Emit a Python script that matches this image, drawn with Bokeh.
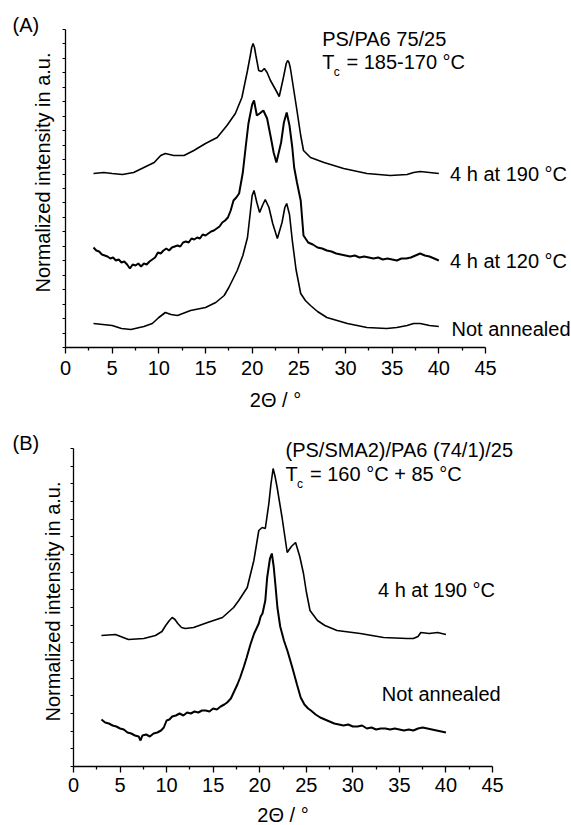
import numpy as np
from bokeh.plotting import figure
from bokeh.models import Range1d, FixedTicker, Label, CustomJSTickFormatter
from bokeh.layouts import column
from bokeh.embed import file_html
from bokeh.resources import INLINE

FONT = "Liberation Sans"

# ---------------- Panel (A): PS/PA6 75/25 ----------------
a190_x = [3.0, 4.1, 5.0, 6.1, 7.3, 8.4, 9.5, 10.2, 10.7, 11.6, 12.7, 13.75, 15.0, 16.25, 17.3, 18.2, 18.9,
          19.5, 19.8, 19.95, 20.1, 20.25, 20.4, 20.7, 21.0, 21.3, 21.6, 21.96, 22.5, 22.9, 23.35, 23.65, 23.8,
          23.95, 24.1, 24.3, 24.8, 25.2, 25.5, 26.25, 27.7, 29.8, 32.3, 34.8, 36.6, 37.3, 38.0, 39.0, 40.0]
a190_y = [174, 175, 174, 173, 175, 180, 185, 192, 194, 192, 192, 197, 204, 210, 222, 234, 250,
          277, 292, 300, 304, 300, 292, 277, 276, 279, 275, 267, 258, 251, 270, 284, 287,
          285, 279, 267, 237, 212, 197, 190, 185, 179, 174, 172, 173, 175, 176, 175, 174]

a120_x = [3.0, 3.3, 3.6, 3.9, 4.2, 4.5, 4.8, 5.1, 5.4, 5.7, 6.0, 6.3, 6.6, 6.9, 7.2, 7.5, 7.8, 8.1, 8.4, 8.7,
          9.0, 9.3, 9.6, 9.9, 10.2, 10.5, 10.8, 11.1, 11.4, 11.7, 12.0, 12.3, 12.6, 12.9, 13.2, 13.5, 13.8,
          14.1, 14.4, 14.7, 15.0, 15.3, 15.6, 15.9, 16.2, 16.5, 16.8, 17.1, 17.4, 17.7, 18.0, 18.3, 18.6,
          19.0, 19.3, 19.6, 20.0, 20.2, 20.5, 20.8, 21.2, 21.6, 22.0, 22.3, 22.6, 23.1, 23.4, 23.7, 24.0,
          24.3, 24.5, 24.8, 25.2, 25.5, 26.0, 26.5, 27.0, 27.5, 28.0, 28.5, 29.0, 29.5, 30.0, 30.5, 31.0,
          31.5, 32.0, 32.5, 33.0, 33.5, 34.0, 34.5, 35.0, 35.5, 36.0, 36.5, 37.0, 37.5, 38.0, 38.5, 39.0,
          39.5, 40.0]
a120_y = [100, 97, 96, 93, 92, 91, 89, 90, 87, 88, 85, 86, 83, 79, 83, 82, 84, 81, 84, 83,
          86, 88, 90, 95, 94, 97, 99, 97, 100, 101, 102, 101, 105, 106, 105, 109, 108,
          110, 109, 113, 112, 114, 116, 117, 119, 121, 125, 127, 130, 137, 147, 150, 154,
          175, 200, 224, 243, 247, 232, 234, 237, 229, 210, 195, 185, 205, 225, 235, 222,
          200, 180, 165, 147, 112, 105, 103, 100, 99, 97, 96, 94, 93, 92, 91, 92,
          90, 91, 90, 89, 90, 88, 89, 88, 87, 89, 89, 90, 92, 94, 92, 91,
          89, 87]

a_na_x = [3.0, 4.0, 5.0, 6.0, 7.0, 8.4, 9.3, 10.0, 10.7, 11.3, 12.0, 13.4, 15.0, 16.1, 17.0, 17.5, 18.4,
          19.0, 19.5, 19.8, 20.0, 20.2, 20.5, 20.8, 21.1, 21.4, 21.8, 22.2, 22.7, 23.2, 23.5, 23.7, 24.0,
          24.3, 24.7, 25.2, 25.7, 26.25, 27.0, 28.0, 30.2, 32.3, 34.4, 35.5, 36.6, 37.3, 38.0, 39.0, 40.0]
a_na_y = [24, 23, 22, 19, 18, 21, 24, 30, 35, 33, 32, 37, 40, 45, 52, 60, 77,
          92, 110, 135, 152, 157, 145, 135, 142, 148, 140, 124, 109, 125, 140, 144, 133,
          107, 78, 54, 47, 42, 36, 30, 24, 20, 19, 20, 22, 24, 24, 22, 21]

# ---------------- Panel (B): (PS/SMA2)/PA6 (74/1)/25 ----------------
b190_x = [3.0, 4.5, 5.9, 7.55, 8.8, 9.5, 9.9, 10.3, 10.6, 10.9, 11.2, 11.6, 12.0, 12.9, 14.4, 16.0, 17.2,
          17.75, 18.66, 19.37, 19.9, 20.26, 20.6, 20.98, 21.2, 21.44, 21.65, 21.87, 22.4, 22.95, 23.4,
          23.85, 24.3, 24.7, 25.0, 25.4, 26.2, 27.0, 28.3, 30.8, 33.3, 35.8, 36.5, 37.0, 37.3, 38.2, 39.1,
          40.0]
b190_y = [131, 132, 127, 128, 131, 135, 141, 146, 149, 147, 143, 139, 138, 139, 144, 149, 159,
          166, 179, 206, 236, 239, 238, 263, 282, 298, 290, 279, 249, 214, 220,
          224, 210, 193, 175, 156, 146, 141, 136, 133, 129, 128, 128, 130, 134, 133, 134,
          132]

b_na_x = [3.0, 3.4, 3.8, 4.2, 4.6, 5.0, 5.4, 5.8, 6.2, 6.6, 7.0, 7.2, 7.4, 7.8, 8.2, 8.6, 9.0, 9.4, 9.7,
          10.0, 10.3, 10.6, 11.0, 11.4, 11.8, 12.2, 12.6, 13.0, 13.4, 13.8, 14.2, 14.6, 15.0, 15.4, 15.8,
          16.2, 16.5, 16.9, 17.2, 17.6, 17.9, 18.3, 18.6, 19.0, 19.4, 19.9, 20.1, 20.3, 20.6, 20.8, 21.1,
          21.3, 21.5, 21.7, 21.9, 22.2, 22.6, 23.0, 23.5, 24.0, 24.4, 24.8, 25.2, 25.5, 26.0, 26.5, 27.0,
          27.5, 28.0, 28.5, 29.0, 29.5, 30.0, 30.5, 31.0, 31.5, 32.0, 32.5, 33.0, 33.5, 34.0, 34.5, 35.0,
          35.5, 36.0, 36.5, 37.0, 37.5, 38.0, 38.5, 39.0, 39.5, 40.0]
b_na_y = [47, 44, 43, 41, 40, 38, 37, 34, 33, 31, 30, 26, 31, 32, 30, 33, 34, 36, 39,
          46, 47, 50, 51, 53, 51, 54, 53, 55, 54, 56, 56, 55, 58, 57, 60,
          62, 64, 68, 74, 82, 89, 100, 109, 122, 133, 143, 150, 153, 166, 189, 208,
          213, 200, 180, 159, 140, 126, 115, 99, 82, 69, 62, 58, 56, 52, 49, 47,
          45, 43, 42, 41, 42, 40, 40, 41, 38, 39, 37, 38, 38, 37, 38, 37,
          36, 37, 36, 38, 39, 38, 37, 36, 35, 34]

x_major = [0, 5, 10, 15, 20, 25, 30, 35, 40, 45]
x_minor = [2.5, 7.5, 12.5, 17.5, 22.5, 27.5, 32.5, 37.5, 42.5]
x_label = "2\u0398 / \u00b0"
y_label = "Normalized intensity in a.u."
Y_MAX = 318
X_MAX = 45


def make_panel(height, frame_left, frame_right, frame_top, n_yticks, standoff):
    """Frame covers the whole canvas; axes are pinned at data 0 and bounded."""
    ppx = (frame_right - frame_left) / X_MAX          # pixels per degree
    x0 = -frame_left / ppx
    x1 = (571 - frame_left) / ppx
    y1 = Y_MAX + frame_top
    y0 = -(height - frame_top - Y_MAX)
    p = figure(width=571, height=height, x_range=Range1d(x0, x1), y_range=Range1d(y0, y1),
               output_backend="svg", toolbar_location=None,
               min_border_left=0, min_border_right=0, min_border_top=0, min_border_bottom=0)
    p.title.visible = False
    p.outline_line_color = None
    p.xgrid.visible = False
    p.ygrid.visible = False
    p.background_fill_color = "white"
    p.border_fill_color = "white"
    xa = p.xaxis[0]
    xa.fixed_location = 0
    xa.bounds = (0, X_MAX)
    xa.ticker = FixedTicker(ticks=x_major, minor_ticks=x_minor)
    xa.major_tick_out = 6
    xa.major_tick_in = 0
    xa.minor_tick_out = 3
    xa.minor_tick_in = 0
    xa.axis_line_width = 1.3
    xa.major_tick_line_width = 1.3
    xa.minor_tick_line_width = 1.3
    xa.axis_line_color = "black"
    xa.major_tick_line_color = "black"
    xa.minor_tick_line_color = "black"
    xa.major_label_text_font = FONT
    xa.major_label_text_font_size = "20px"
    xa.major_label_text_color = "black"
    xa.major_label_standoff = standoff
    ya = p.yaxis[0]
    ya.fixed_location = 0
    ya.bounds = (0, Y_MAX)
    ya.ticker = FixedTicker(ticks=list(np.linspace(0, Y_MAX, n_yticks)), minor_ticks=[])
    ya.formatter = CustomJSTickFormatter(code="return ''")
    ya.major_tick_out = 3
    ya.major_tick_in = 0
    ya.minor_tick_out = 0
    ya.minor_tick_in = 0
    ya.axis_line_width = 1.3
    ya.major_tick_line_width = 1
    ya.axis_line_color = "black"
    ya.major_tick_line_color = "black"
    ya.major_label_standoff = 0
    return p


def add_text(p, x, y, text, size=20, align="left", baseline="alphabetic", angle=0.0):
    # Bokeh draws the alphabetic baseline ~0.35 em lower than requested; compensate
    dy = 0.35 * size if baseline == "alphabetic" else 0.0
    p.add_layout(Label(x=x, y=y + dy, text=text, text_font=FONT, text_font_size=f"{size}px",
                       text_color="black", text_align=align, text_baseline=baseline, angle=angle))


# ---- Panel A ----
pA = make_panel(416, 65, 485, 29, 23, 7)
pA.line(a_na_x, a_na_y, line_color="black", line_width=1.6)
pA.line(a120_x, a120_y, line_color="black", line_width=2.0)
pA.line(a190_x, a190_y, line_color="black", line_width=1.6)
add_text(pA, -5.68, 316, "(A)")
add_text(pA, 27.5, 302, "PS/PA6 75/25")
add_text(pA, 27.5, 278.5, "T")
add_text(pA, 28.75, 271, "c", size=12)
add_text(pA, 30.1, 278.5, "= 185-170 \u00b0C")
add_text(pA, 41.2, 167, "4 h at 190 \u00b0C")
add_text(pA, 41.2, 80, "4 h at 120 \u00b0C")
add_text(pA, 41.36, 12, "Not annealed")
add_text(pA, 22.5, -59, x_label, align="center")
add_text(pA, -2.36, 175, y_label, align="center", baseline="middle", angle=np.pi / 2)

# ---- Panel B ----
pB = make_panel(409, 73, 492, 32, 19, 5)
pB.line(b_na_x, b_na_y, line_color="black", line_width=2.0)
pB.line(b190_x, b190_y, line_color="black", line_width=1.6)
add_text(pB, -6.55, 317, "(B)")
add_text(pB, 22.77, 310, "(PS/SMA2)/PA6 (74/1)/25")
add_text(pB, 22.77, 286, "T")
add_text(pB, 24.0, 278, "c", size=12)
add_text(pB, 25.4, 286, "= 160 \u00b0C + 85 \u00b0C")
add_text(pB, 32.7, 170, "4 h at 190 \u00b0C")
add_text(pB, 33.1, 66, "Not annealed")
add_text(pB, 22.5, -55, x_label, align="center")
add_text(pB, -2.15, 165, y_label, align="center", baseline="middle", angle=np.pi / 2)

layout = column(pA, pB, spacing=0)
open("out.html", "w").write(file_html(layout, INLINE))
